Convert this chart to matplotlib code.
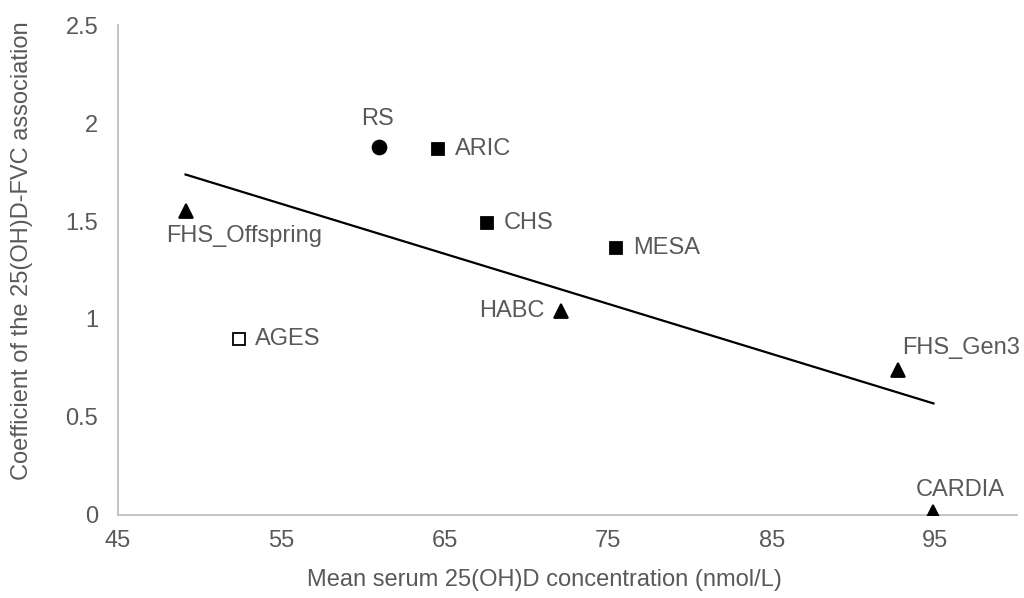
import numpy as np
import matplotlib
matplotlib.use("Agg")
import matplotlib.pyplot as plt

plt.rcParams['font.family'] = ['Liberation Sans', 'DejaVu Sans']

# ===============================
# Data
# ===============================
cohorts = ["RS", "ARIC", "CHS", "MESA", "HABC", "FHS_Offspring", "AGES", "FHS_Gen3", "CARDIA"]
mean_vitd = [61.0, 64.6, 67.6, 75.5, 72.1, 49.15, 52.4, 92.7, 94.9]
coef = [1.88, 1.87, 1.49, 1.36, 1.04, 1.55, 0.90, 0.74, 0.015]
markers = ["o", "s", "s", "s", "^", "^", "s", "^", "^"]
filled = [True, True, True, True, True, True, False, True, True]

# label placement: offset in points + alignment
label_pos = {
    "RS": ((-1, 12), "center", "bottom"),
    "ARIC": ((12, 0), "left", "center"),
    "CHS": ((12, 0), "left", "center"),
    "MESA": ((12, 0), "left", "center"),
    "HABC": ((-12, 0), "right", "center"),
    "FHS_Offspring": ((-14, -10), "left", "top"),
    "AGES": ((12, 0), "left", "center"),
    "FHS_Gen3": ((3, 8), "left", "bottom"),
    "CARDIA": ((-13, 8), "left", "bottom"),
}

text_col = "#595959"
axis_col = "#BFBFBF"
fs = 17

fig = plt.figure(figsize=(10.24, 5.98), dpi=100)
ax = fig.add_axes([0.115, 0.139, 0.878, 0.819])

for name, x, y, m, f in zip(cohorts, mean_vitd, coef, markers, filled):
    ax.plot(x, y, marker=m, markersize=10 if m != "s" else 8.5,
            markerfacecolor="black" if f else "white",
            markeredgecolor="black", markeredgewidth=1.3,
            linestyle="none", zorder=3)
    (dx, dy), ha, va = label_pos[name]
    ax.annotate(name, (x, y), xytext=(dx, dy), textcoords="offset points",
                ha=ha, va=va, fontsize=fs, color=text_col)

# ---------- linear trendline ----------
k, b = np.polyfit(mean_vitd, coef, 1)
xs = np.array([min(mean_vitd), max(mean_vitd)])
ax.plot(xs, k * xs + b, color="black", linewidth=1.6, zorder=2)

# ---------- axes ----------
ax.set_xlim(45, 100)
ax.set_ylim(0, 2.5)
ax.set_xticks([45, 55, 65, 75, 85, 95])
ax.set_yticks([0, 0.5, 1, 1.5, 2, 2.5])
ax.set_yticklabels(["0", "0.5", "1", "1.5", "2", "2.5"])
ax.tick_params(length=0, labelsize=fs, labelcolor=text_col)
ax.tick_params(axis="y", pad=14)
ax.tick_params(axis="x", pad=11)

for s in ["top", "right"]:
    ax.spines[s].set_visible(False)
for s in ["left", "bottom"]:
    ax.spines[s].set_color(axis_col)
    ax.spines[s].set_linewidth(1.3)

ax.set_xlabel("Mean serum 25(OH)D concentration (nmol/L)", fontsize=fs,
              color=text_col)
ax.set_ylabel("Coefficient of the 25(OH)D-FVC association", fontsize=fs,
              color=text_col)
ax.xaxis.set_label_coords(0.475, -0.11)
ax.yaxis.set_label_coords(-0.094, 0.54)

fig.savefig("out.png", dpi=100)
